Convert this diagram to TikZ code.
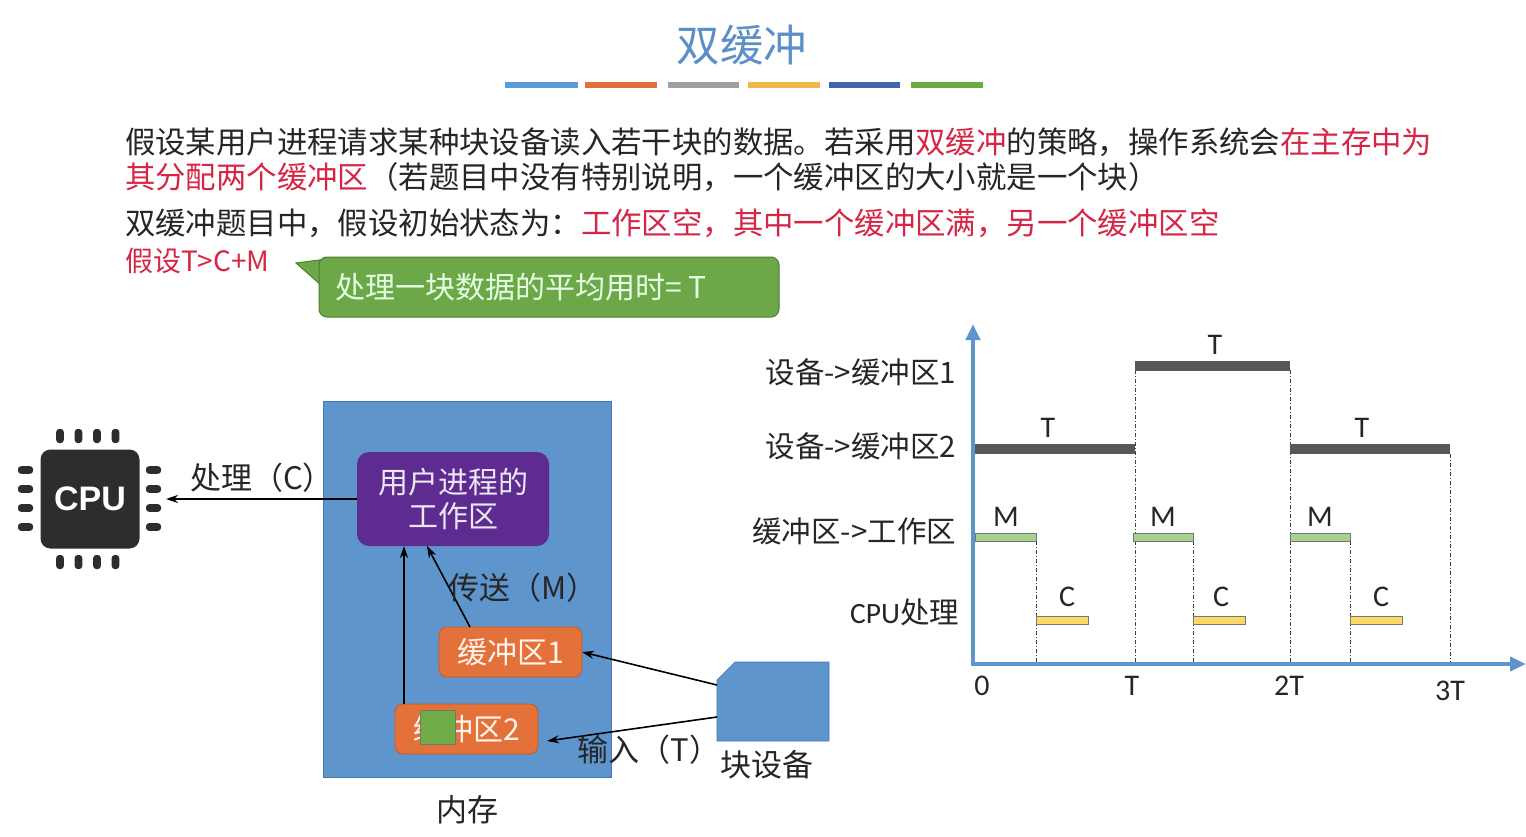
\documentclass[tikz,border=0pt]{standalone}
\usepackage{fontspec}
\setmainfont{Noto Sans CJK SC}
\newfontfamily\lat{Carlito}
\usetikzlibrary{arrows.meta,calc,shapes.geometric}
\definecolor{titleblue}{RGB}{91,143,199}
\definecolor{redtxt}{RGB}{214,38,70}
\definecolor{txt}{RGB}{38,38,38}
\definecolor{memblue}{RGB}{94,149,204}
\definecolor{memedge}{RGB}{70,120,175}
\definecolor{purp}{RGB}{94,44,145}
\definecolor{orng}{RGB}{228,112,58}
\definecolor{orngedge}{RGB}{190,90,45}
\definecolor{grn}{RGB}{112,173,71}
\definecolor{callg}{RGB}{108,168,72}
\definecolor{callgedge}{RGB}{75,125,50}
\definecolor{chip}{RGB}{45,45,45}
\definecolor{cA}{RGB}{91,155,213}
\definecolor{cB}{RGB}{226,112,60}
\definecolor{cC}{RGB}{160,160,160}
\definecolor{cD}{RGB}{242,184,75}
\definecolor{cE}{RGB}{63,102,176}
\definecolor{cF}{RGB}{106,171,71}
\definecolor{bargray}{RGB}{88,88,88}
\definecolor{barg}{RGB}{169,209,142}
\definecolor{bary}{RGB}{255,217,102}
\definecolor{baredge}{RGB}{110,120,130}
\begin{document}
\begin{tikzpicture}[x=1pt,y=-1pt,
  every node/.style={inner sep=0pt,outer sep=0pt},
  para/.style={anchor=west,font=\fontsize{30.4}{36}\selectfont},
  lbl/.style={font=\fontsize{31}{36}\selectfont,text=txt},
  rowlbl/.style={anchor=east,font=\fontsize{29.5}{34}\selectfont,text=txt},
  tlbl/.style={font=\lat\fontsize{30}{34}\selectfont,text=txt},
  arr/.style={-{Stealth[length=12pt,width=8pt]},line width=1.6pt,black},
  axis/.style={-{Triangle[length=16pt,width=14pt]},line width=4pt,memblue},
  pinv/.style={fill=chip,rounded corners=3pt},
  vdash/.style={line width=0.7pt,black!75,dash pattern=on 4pt off 2pt on 1pt off 2pt},
  barbox/.style={draw=baredge,line width=0.8pt},
  colbar/.style={line width=6pt}
]
\useasboundingbox (0,0) rectangle (1526,837);
\fill[white] (0,0) rectangle (1526,837);

% title
\node[font=\fontsize{43.5}{50}\selectfont,text=titleblue] (title) at (742,45) {双缓冲};
\foreach \a/\b/\c in {505/578/cA,585/657/cB,668/739/cC,748/820/cD,829/900/cE,911/983/cF}{
  \draw[colbar,\c] (\a,85.5) -- (\b,85.5);
}

% paragraph
\node[para] (p1) at (125,142) {\textcolor{txt}{假设某用户进程请求某种块设备读入若干块的数据。若采用}\textcolor{redtxt}{双缓冲}\textcolor{txt}{的策略，操作系统会}\textcolor{redtxt}{在主存中为}};
\node[para] (p2) at (125,177) {\textcolor{redtxt}{其分配两个缓冲区}\textcolor{txt}{（若题目中没有特别说明，一个缓冲区的大小就是一个块）}};
\node[para] (p3) at (125,223) {\textcolor{txt}{双缓冲题目中，假设初始状态为：}\textcolor{redtxt}{工作区空，其中一个缓冲区满，另一个缓冲区空}};
\node[para,font=\fontsize{28}{34}\selectfont,text=redtxt] (p4) at (125,261) {假设T>C+M};

% callout
\coordinate (cnw) at (319,257);
\fill[callg,draw=callgedge,line width=1pt] ($(cnw)+(8,2)$) -- ($(cnw)+(-23,6)$) -- ($(cnw)+(2,28)$) -- cycle;
\node[draw=callgedge,line width=1pt,fill=callg,rounded corners=8pt,minimum width=460pt,minimum height=60pt,anchor=north west] (callout) at (cnw) {};
\node[anchor=west,font=\fontsize{30}{34}\selectfont,text=white!90!green] (calltxt) at (335,287) {处理一块数据的平均用时= T};

% CPU
\node[fill=chip,rounded corners=10pt,minimum width=99pt,minimum height=99pt] (cpu) at (90,499) {};
\node[font=\fontsize{34}{40}\selectfont,text=white] (cputxt) at (cpu.center) {\fontspec{Liberation Sans}\bfseries CPU};
\foreach \x in {60,78.5,97,115.5}{
  \fill[pinv] (\x-3.8,429) rectangle (\x+3.8,443);
  \fill[pinv] (\x-3.8,555) rectangle (\x+3.8,569);
}
\foreach \y in {470,489,508,527}{
  \fill[pinv] (18,\y-3.8) rectangle (33,\y+3.8);
  \fill[pinv] (146,\y-3.8) rectangle (161,\y+3.8);
}
\node[minimum width=152pt,minimum height=140pt] (cpuall) at (90,499) {};

% memory
\node[fill=memblue,draw=memedge,line width=0.8pt,minimum width=288pt,minimum height=376pt] (mem) at (467,589) {};
\node[fill=purp,rounded corners=12pt,minimum width=192pt,minimum height=94pt,align=center,text=white!88!purp,font=\fontsize{30}{34}\selectfont] (work) at (453,499) {用户进程的\\工作区};
\node[fill=orng,draw=orngedge,line width=0.8pt,rounded corners=8pt,minimum width=143pt,minimum height=50pt,text=white!92!orange,font=\fontsize{30}{34}\selectfont] (buf1) at (510.5,652) {缓冲区1};
\node[fill=orng,draw=orngedge,line width=0.8pt,rounded corners=8pt,minimum width=143pt,minimum height=50pt,text=white!92!orange,font=\fontsize{30}{34}\selectfont] (buf2) at (466.5,729) {缓冲区2};
\node[fill=grn,draw=black!55,line width=0.8pt,minimum width=35pt,minimum height=34pt] (blk) at (437.5,727) {};

% block device
\node[minimum width=112pt,minimum height=79pt] (dev) at (773,701.5) {};
\fill[memblue,draw=memedge,line width=0.6pt] ($(dev.north west)+(0,18)$) -- ($(dev.north west)+(18,0)$) -- (dev.north east) -- (dev.south east) -- (dev.south west) -- cycle;

% arrows
\draw[arr] (work.west) -- (cpuall.east);
\draw[arr] ($(buf2.north west)+(9,0)$) -- ($(work.south west)+(47,0)$);
\draw[arr] ($(buf1.north west)+(31,0)$) -- ($(work.south west)+(70,0)$);
\draw[arr] ($(dev.west)+(0,-16.5)$) -- (buf1.east);
\draw[arr] ($(dev.west)+(0,15.5)$) -- ($(buf2.south east)+(9,-13)$);

% labels
\node[lbl] (lc) at (262,478) {处理（C）};
\node[lbl] (lm) at (523,588) {传送（M）};
\node[lbl] (lt) at (649,750) {输入（T）};
\node[lbl] (ldev) at (767,765) {块设备};
\node[lbl] (lmem) at (467,810) {内存};

% timing chart
\coordinate (O) at (973,664);
\coordinate (ytop) at (973,324);
\coordinate (xend) at (1526,664);
\foreach \x/\y in {1036/541,1135/370,1193/541,1290/370,1350/541,1450/454}{
  \draw[vdash] (\x,\y) -- (\x,664);
}
\fill[bargray] (1135,361) rectangle (1290,370.5);
\fill[bargray] (975,444) rectangle (1135,454);
\fill[bargray] (1290,444) rectangle (1450,454);
\foreach \a/\b in {975/1036,1133/1193,1290/1350}{
  \fill[barg,barbox] (\a,533) rectangle (\b,541.5);
}
\foreach \a/\b in {1036/1088,1193/1245,1350/1402}{
  \fill[bary,barbox] (\a,616) rectangle (\b,624);
}
\draw[axis] ($(O)+(0,2)$) -- (ytop);
\draw[axis] ($(O)+(-2,0)$) -- (xend);

\node[rowlbl] (r1) at (956,372) {设备->缓冲区1};
\node[rowlbl] (r2) at (956,446) {设备->缓冲区2};
\node[rowlbl] (r3) at (956,531) {缓冲区->工作区};
\node[rowlbl] (r4) at (959,612) {{\lat CPU}处理};

\node[tlbl] (t1) at (1215,345) {T};
\node[tlbl] (t2) at (1048,428) {T};
\node[tlbl] (t3) at (1362,428) {T};
\node[tlbl] (m1) at (1006,517) {M};
\node[tlbl] (m2) at (1163,517) {M};
\node[tlbl] (m3) at (1320,517) {M};
\node[tlbl] (c1) at (1067,597) {C};
\node[tlbl] (c2) at (1221,597) {C};
\node[tlbl] (c3) at (1381,597) {C};
\node[tlbl] (x0) at (982,686) {0};
\node[tlbl] (x1) at (1132,686) {T};
\node[tlbl] (x2) at (1289,686) {2T};
\node[tlbl] (x3) at (1450,691) {3T};
\end{tikzpicture}
\end{document}
